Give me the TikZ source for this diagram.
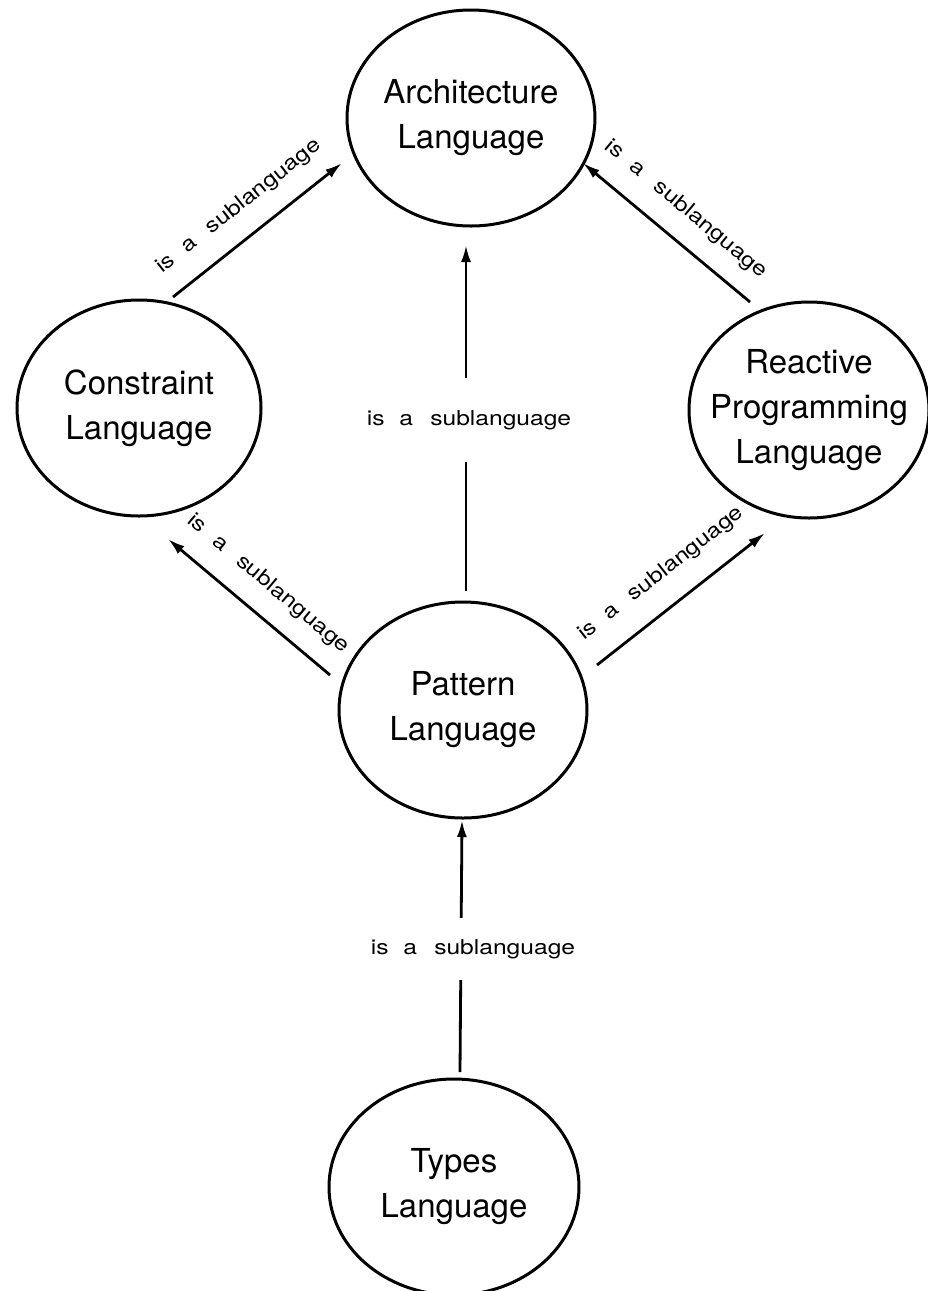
\documentclass[tikz,border=0pt]{standalone}
\usepackage{fontspec}
\setmainfont{TeX Gyre Heros}
\usetikzlibrary{shapes.geometric,arrows.meta}
\newcommand\islbl{\scalebox{1.2}[1]{is\hspace{0.6em}a\hspace{0.7em}sublanguage}}
\begin{document}
\begin{tikzpicture}[x=1pt,y=-1pt,
  lang/.style={ellipse, draw, line width=3pt, inner xsep=-30pt, inner ysep=0pt,
    align=center, font=\fontsize{33}{45}\selectfont},
  rel/.style={line width=2.8pt, -{Latex[length=17pt,width=10pt]}},
  lbl/.style={font=\fontsize{20.5}{24}\selectfont, inner sep=0pt}]
\useasboundingbox (0,0) rectangle (928,1291);
\node[lang, minimum width=248pt, minimum height=216pt] (A) at (471,118) {Architecture\\Language};
\node[lang, minimum width=244pt, minimum height=216pt] (C) at (139,408) {Constraint\\Language};
\node[lang, minimum width=240pt, minimum height=216pt] (R) at (809,410) {Reactive\\Programming\\Language};
\node[lang, minimum width=248pt, minimum height=216pt] (P) at (463,710) {Pattern\\Language};
\node[lang, minimum width=250pt, minimum height=216pt] (T) at (454,1187) {Types\\Language};

\draw[rel] ([shift={(34,-111)}]C.center) -- node[lbl, above=19pt, sloped]{\islbl} ([shift={(-129,45)}]A.center);
\draw[rel] ([shift={(-59,-108)}]R.center) -- node[lbl, above=19pt, sloped]{\islbl} ([shift={(112,45)}]A.center);
\draw[rel] ([shift={(3,-119)}]P.center) -- node[lbl, fill=white, minimum height=84pt, pos=0.494, xshift=3pt]{\islbl} ([shift={(-5,127)}]A.center);
\draw[rel] ([shift={(-133,-35)}]P.center) -- node[lbl, above=19pt, sloped]{\islbl} ([shift={(29,131)}]C.center);
\draw[rel] ([shift={(134,-45)}]P.center) -- node[lbl, above=21pt, sloped]{\islbl} ([shift={(-44,123)}]R.center);
\draw[rel] ([shift={(6,-115)}]T.center) -- node[lbl, fill=white, minimum height=62pt, pos=0.488, xshift=12pt]{\islbl} ([shift={(-1,110)}]P.center);
\end{tikzpicture}
\end{document}
